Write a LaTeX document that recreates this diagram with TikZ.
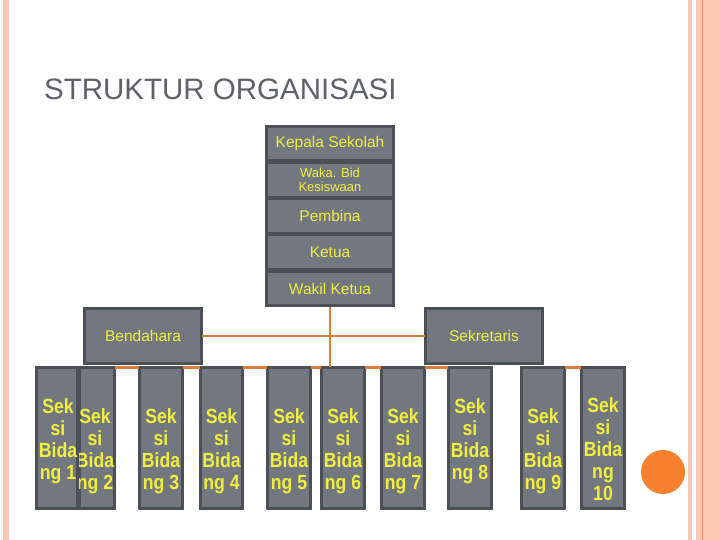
\documentclass[tikz,border=0pt]{standalone}
\usepackage{fontspec}
\setmainfont{Liberation Sans}
\newfontfamily\narrowsans[FakeStretch=0.86]{Liberation Sans}
\definecolor{boxfill}{RGB}{115,119,128}
\definecolor{boxline}{RGB}{76,79,85}
\definecolor{txt}{RGB}{240,240,60}
\definecolor{conn}{RGB}{224,124,58}
\definecolor{titlec}{RGB}{94,97,103}
\definecolor{pale}{RGB}{249,201,182}
\definecolor{salmon}{RGB}{252,200,180}
\definecolor{salline}{RGB}{232,150,110}
\definecolor{dotc}{RGB}{247,128,46}
\begin{document}
\begin{tikzpicture}[x=1pt,y=-1pt,
  box/.style={draw=boxline, fill=boxfill, line width=2.8pt, inner sep=0pt, outer sep=0pt, text=txt},
  sbox/.style={box, minimum width=127.2, minimum height=34.2, font=\fontsize{15.5}{17}\selectfont},
  mbox/.style={box, minimum width=117.2, minimum height=55.2, font=\fontsize{15.5}{17}\selectfont},
  bbox/.style={box, minimum width=#1, minimum height=141.2},
  btxt/.style={text=txt, align=center, anchor=north, inner sep=0pt, font=\narrowsans\bfseries\fontsize{20.5}{22}\selectfont},
  conline/.style={draw=conn, line width=2.5pt}]
\useasboundingbox (0,0) rectangle (720,540);
\fill[white] (0,0) rectangle (720,540);
% page decoration
\fill[pale] (3,0) rectangle (9,540);
\fill[pale] (688,0) rectangle (692,540);
\fill[salmon] (696,0) rectangle (720,540);
\draw[salline, line width=1pt] (702.5,0) -- (702.5,540);
% title
\node[anchor=base west, inner sep=0pt, font=\fontsize{29.5}{30}\selectfont, text=titlec] (title) at (44,100) {STRUKTUR ORGANISASI};
% coordinates for box positions (drawn later)
\path (330,143.5) coordinate (pkep) (330,180) coordinate (pwaka) (330,216) coordinate (ppem)
      (330,252) coordinate (pket) (330,288.5) coordinate (pwk)
      (143,336) coordinate (pben) (484,336) coordinate (psek);
% bottom boxes
\node[bbox=35.2] (b2) at (97,438) {};
\node[btxt] (t2) at (95,408) {Sek\\si\\Bida\\ng 2};
\node[bbox=41.2] (b1) at (57,438) {};
\node[btxt] (t1) at (58,398) {Sek\\si\\Bida\\ng 1};
\node[bbox=43.2] (b3) at (161,438) {};
\node[btxt] (t3) at (161,408) {Sek\\si\\Bida\\ng 3};
\node[bbox=42.2] (b4) at (221.5,438) {};
\node[btxt] (t4) at (221.5,408) {Sek\\si\\Bida\\ng 4};
\node[bbox=43.2] (b5) at (289,438) {};
\node[btxt] (t5) at (289,408) {Sek\\si\\Bida\\ng 5};
\node[bbox=43.2] (b6) at (343,438) {};
\node[btxt] (t6) at (343,408) {Sek\\si\\Bida\\ng 6};
\node[bbox=43.2] (b7) at (403,438) {};
\node[btxt] (t7) at (403,408) {Sek\\si\\Bida\\ng 7};
\node[bbox=43.2] (b8) at (470,438) {};
\node[btxt] (t8) at (470,398) {Sek\\si\\Bida\\ng 8};
\node[bbox=43.2] (b9) at (543,438) {};
\node[btxt] (t9) at (543,408) {Sek\\si\\Bida\\ng 9};
\node[bbox=43.2] (b10) at (603,438) {};
\node[btxt] (t10) at (603,397) {Sek\\si\\Bida\\ng\\10};
% connectors among the bottom boxes
\draw[conline] (b2.north east) -- (b3.north west);
\draw[conline] (b3.north east) -- (b4.north west);
\draw[conline] (b4.north east) -- (b5.north west);
\draw[conline] (b5.north east) -- (b6.north west);
\draw[conline] (b6.north east) -- (b7.north west);
\draw[conline] (b7.north east) -- (b8.north west);
\draw[conline] (b9.north east) -- (b10.north west);
% middle boxes
\node[mbox] (ben) at (pben) {Bendahara};
\node[mbox] (sek) at (psek) {Sekretaris};
\draw[conline] (ben.east) -- (sek.west);
% central stack
\draw[conline] (pwk) -- (pwk |- b6.north);
\node[sbox] (kep) at (pkep) {Kepala Sekolah};
\node[sbox, align=center, font=\fontsize{13}{14}\selectfont] (waka) at (pwaka) {Waka. Bid\\Kesiswaan};
\node[sbox] (pem) at (ppem) {Pembina};
\node[sbox] (ket) at (pket) {Ketua};
\node[sbox] (wk) at (pwk) {Wakil Ketua};
% orange dot
\node[circle, fill=dotc, minimum size=44, inner sep=0pt] (dot) at (663,472) {};
\end{tikzpicture}
\end{document}
